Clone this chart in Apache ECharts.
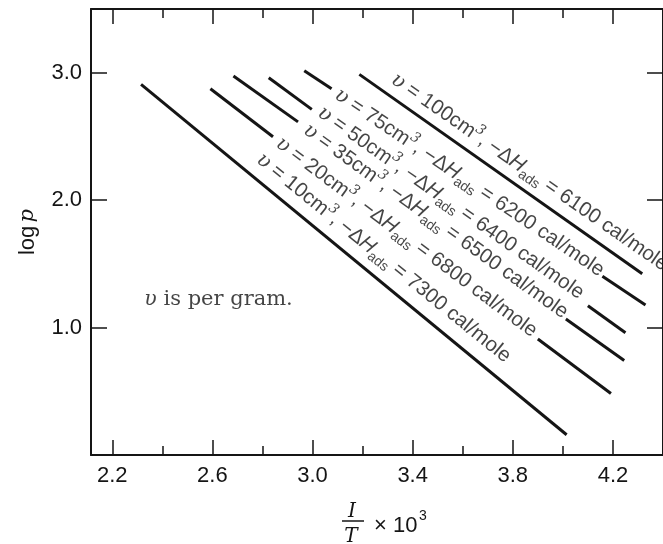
<!DOCTYPE html>
<html>
<head>
<meta charset="utf-8">
<script src="https://cdn.jsdelivr.net/npm/echarts@6/dist/echarts.min.js"></script>
<style>
  html, body { margin: 0; padding: 0; background: #fff; }
  #chart { width: 663px; height: 544px; }
</style>
</head>
<body>
<div id="chart"></div>
<script>
// axis ticks (1/T x 10^3 and log p)
const xMajorTicks = [2.2, 2.6, 3.0, 3.4, 3.8, 4.2];
const xMinorTicks = [2.4, 2.8, 3.2, 3.6, 4.0];
const yTicks = [1, 2, 3];

// adsorbed volume (cm3 per gram) and heat of adsorption of each isostere
const volumes = [10, 20, 35, 50, 75, 100];
const heats = [7300, 6800, 6500, 6400, 6200, 6100];

// drawn pieces of each isostere, [1/T x 10^3, log p]; the gap is where the label sits
const iso10 = [[[2.315, 2.909], [4.015, 0.159]]];
const iso20 = [[[2.592, 2.874], [2.842, 2.497]], [[3.900, 0.910], [4.192, 0.483]]];
const iso35 = [[[2.684, 2.974], [2.942, 2.614]], [[4.012, 1.068], [4.245, 0.741]]];
const iso50 = [[[2.825, 2.961], [2.997, 2.712]], [[4.100, 1.171], [4.250, 0.959]]];
const iso75 = [[[2.967, 3.016], [3.076, 2.874]], [[4.158, 1.403], [4.330, 1.177]]];
const iso100 = [[[3.187, 2.987], [4.317, 1.422]]];
const isosteres = [iso10, iso20, iso35, iso50, iso75, iso100];

// where each label starts
const labelAt = [[2.786, 2.335], [2.862, 2.46], [2.971, 2.565], [3.028, 2.70], [3.096, 2.84], [3.322, 2.96]];
const noteAt = [2.328, 1.22];

const xMin = 2.115, xMax = 4.4, yMin = 0, yMax = 3.5;
const gridLeft = 91, gridTop = 9, gridW = 583, gridH = 446;

const sans = "'Liberation Sans', Arial, sans-serif";
const serif = "'DejaVu Serif', serif";
const ink = '#151515';

const chart = echarts.init(document.getElementById('chart'));

// one line series per drawn piece
const lineSeries = [];
isosteres.forEach(function (pieces) {
  pieces.forEach(function (seg) {
    lineSeries.push({
      type: 'line',
      data: seg,
      symbol: 'none',
      silent: true,
      lineStyle: { color: ink, width: 3, cap: 'butt' }
    });
  });
});

// label angle follows the isostere slope on screen
function angleOf(pieces) {
  const a = pieces[0][0];
  const last = pieces[pieces.length - 1];
  const b = last[last.length - 1];
  const dx = (b[0] - a[0]) * gridW / (xMax - xMin);
  const dy = (b[1] - a[1]) * gridH / (yMax - yMin);
  return Math.atan2(dy, dx) * 180 / Math.PI;
}

const labelData = isosteres.map(function (pieces, i) {
  return {
    value: labelAt[i],
    label: {
      rotate: angleOf(pieces),
      formatter: '{it|υ} = ' + volumes[i] + 'cm{sup|3}, −Δ{ih|H}{sub|ads} = ' + heats[i] + ' cal/mole'
    }
  };
});
labelData.push({
  value: noteAt,
  label: {
    rotate: 0,
    formatter: '{it|υ}{nt| is per gram.}'
  }
});

const option = {
  animation: false,
  backgroundColor: '#fff',
  grid: { left: gridLeft, top: gridTop, width: gridW, height: gridH },
  xAxis: [
    {
      type: 'value', position: 'bottom', min: xMin, max: xMax,
      axisLine: { show: true, lineStyle: { color: ink, width: 2 } },
      axisTick: { show: true, inside: true, length: 15, customValues: xMajorTicks, lineStyle: { color: ink, width: 1.5 } },
      axisLabel: {
        show: true, customValues: xMajorTicks, margin: 10,
        color: ink, fontSize: 22, fontFamily: sans,
        formatter: function (v) { return v.toFixed(1); }
      },
      splitLine: { show: false }
    },
    {
      type: 'value', position: 'bottom', min: xMin, max: xMax,
      axisLine: { show: false },
      axisTick: { show: true, inside: true, length: 9, customValues: xMinorTicks, lineStyle: { color: ink, width: 1.5 } },
      axisLabel: { show: false },
      splitLine: { show: false }
    },
    {
      type: 'value', position: 'top', min: xMin, max: xMax,
      axisLine: { show: true, lineStyle: { color: ink, width: 2 } },
      axisTick: { show: true, inside: true, length: 15, customValues: xMajorTicks, lineStyle: { color: ink, width: 1.5 } },
      axisLabel: { show: false },
      splitLine: { show: false }
    },
    {
      type: 'value', position: 'top', min: xMin, max: xMax,
      axisLine: { show: false },
      axisTick: { show: true, inside: true, length: 9, customValues: xMinorTicks, lineStyle: { color: ink, width: 1.5 } },
      axisLabel: { show: false },
      splitLine: { show: false }
    }
  ],
  yAxis: [
    {
      type: 'value', position: 'left', min: yMin, max: yMax,
      name: '{a|log} {b|p}', nameLocation: 'middle', nameRotate: 90, nameGap: 52,
      nameTextStyle: {
        color: ink,
        rich: {
          a: { fontFamily: sans, fontSize: 22, color: ink },
          b: { fontFamily: serif, fontStyle: 'italic', fontSize: 21, color: ink }
        }
      },
      axisLine: { show: true, lineStyle: { color: ink, width: 2 } },
      axisTick: { show: true, inside: true, length: 16, customValues: yTicks, lineStyle: { color: ink, width: 1.5 } },
      axisLabel: {
        show: true, customValues: yTicks, margin: 9,
        color: ink, fontSize: 22, fontFamily: sans,
        formatter: function (v) { return v.toFixed(1); }
      },
      splitLine: { show: false }
    },
    {
      type: 'value', position: 'right', min: yMin, max: yMax,
      axisLine: { show: true, lineStyle: { color: ink, width: 2 } },
      axisTick: { show: true, inside: true, length: 16, customValues: yTicks, lineStyle: { color: ink, width: 1.5 } },
      axisLabel: { show: false },
      splitLine: { show: false }
    }
  ],
  series: lineSeries.concat([{
    type: 'scatter',
    data: labelData,
    symbolSize: 0,
    silent: true,
    label: {
      show: true,
      position: 'inside',
      align: 'left',
      verticalAlign: 'middle',
      color: ink,
      fontFamily: sans,
      fontSize: 20.5,
      lineHeight: 27,
      rich: {
        it: { fontFamily: serif, fontStyle: 'italic', fontSize: 20.5, color: ink },
        ih: { fontFamily: sans, fontStyle: 'italic', fontSize: 20.5, color: ink },
        sup: { fontFamily: serif, fontStyle: 'italic', fontSize: 14, lineHeight: 14, verticalAlign: 'top', color: ink },
        sub: { fontFamily: sans, fontSize: 14, lineHeight: 14, verticalAlign: 'bottom', color: ink },
        nt: { fontFamily: serif, fontSize: 21, color: ink }
      }
    }
  }]),
  graphic: [
    { type: 'text', x: 352, y: 512, style: { text: 'I', font: 'italic 20px ' + serif, fill: ink, align: 'center', verticalAlign: 'middle' } },
    { type: 'line', shape: { x1: 342, y1: 521, x2: 364, y2: 521 }, style: { stroke: ink, lineWidth: 1.5 } },
    { type: 'text', x: 351, y: 537, style: { text: 'T', font: 'italic 20px ' + serif, fill: ink, align: 'center', verticalAlign: 'middle' } },
    { type: 'text', x: 374, y: 526, style: { text: '× 10', font: '22px ' + sans, fill: ink, align: 'left', verticalAlign: 'middle' } },
    { type: 'text', x: 419, y: 516, style: { text: '3', font: '14px ' + sans, fill: ink, align: 'left', verticalAlign: 'middle' } }
  ]
};

chart.setOption(option);
</script>
</body>
</html>
